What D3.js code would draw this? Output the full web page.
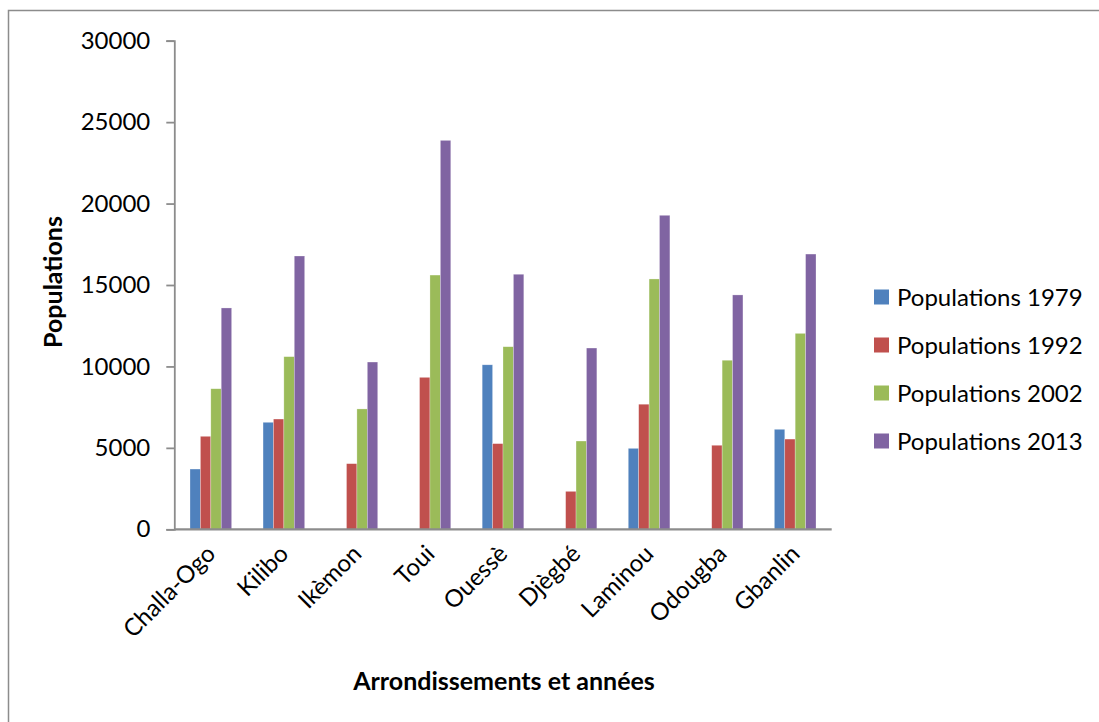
<!DOCTYPE html>
<html>
<head>
<meta charset="utf-8">
<script src="https://cdn.jsdelivr.net/npm/d3@7"></script>
<style>
  html, body { margin: 0; padding: 0; background: #fff; }
  svg { display: block; }
  text { font-family: Lato, "Open Sans", sans-serif; fill: #000; }
</style>
</head>
<body>
<svg id="chart" width="1099" height="722"></svg>
<script>
const categories = ["Challa-Ogo", "Kilibo", "Ikèmon", "Toui", "Ouessè", "Djègbé", "Laminou", "Odougba", "Gbanlin"];
const seriesNames = ["Populations 1979", "Populations 1992", "Populations 2002", "Populations 2013"];
const pop1979 = [3700, 6570, 0, 0, 10100, 0, 4970, 0, 6140];
const pop1992 = [5710, 6770, 4030, 9330, 5260, 2330, 7680, 5160, 5540];
const pop2002 = [8630, 10600, 7390, 15610, 11210, 5420, 15370, 10380, 12030];
const pop2013 = [13590, 16780, 10270, 23880, 15660, 11130, 19280, 14390, 16900];
const yTicks = [0, 5000, 10000, 15000, 20000, 25000, 30000];
const colors = ["#4F81BD", "#C0504D", "#9BBB59", "#8064A2"];
const seriesValues = [pop1979, pop1992, pop2002, pop2013];

const svg = d3.select("#chart");

// outer frame
svg.append("rect")
  .attr("x", 8.5).attr("y", 10.5)
  .attr("width", 1200).attr("height", 800)
  .attr("fill", "none").attr("stroke", "#8c8c8c").attr("stroke-width", 1.5);

const plot = { left: 174.3, right: 831.7, top: 40.7, bottom: 529.3 };

const x0 = d3.scaleBand()
  .domain(categories)
  .range([plot.left, plot.right])
  .paddingInner(0.43)
  .paddingOuter(0.215);

const x1 = d3.scaleBand()
  .domain(seriesNames)
  .range([0, x0.bandwidth()]);

const y = d3.scaleLinear()
  .domain([0, 30000])
  .range([plot.bottom, plot.top]);

// bars
const groups = svg.append("g").selectAll("g")
  .data(categories)
  .join("g")
  .attr("transform", d => `translate(${x0(d)},0)`);

groups.selectAll("rect")
  .data((c, i) => seriesNames.map((s, k) => ({ s, k, v: seriesValues[k][i] })))
  .join("rect")
  .filter(d => d.v > 0)
  .attr("x", d => x1(d.s))
  .attr("width", x1.bandwidth())
  .attr("y", d => y(d.v))
  .attr("height", d => y(0) - y(d.v))
  .attr("fill", d => colors[d.k])
  .attr("stroke", "rgba(255,255,255,0.45)")
  .attr("stroke-width", 0.6);

// y axis
const yAxis = d3.axisLeft(y)
  .tickValues(yTicks)
  .tickSize(8)
  .tickPadding(16)
  .tickFormat(d3.format("d"));

const gy = svg.append("g")
  .attr("transform", `translate(${plot.left},0)`)
  .call(yAxis);
gy.select(".domain").attr("stroke", "#8c8c8c").attr("stroke-width", 1.8);
gy.selectAll(".tick line").attr("stroke", "#8c8c8c").attr("stroke-width", 1.8);
gy.selectAll(".tick text")
  .style("font-family", "Lato, sans-serif")
  .style("font-size", "24px")
  .attr("fill", "#000");

// x axis
const xAxis = d3.axisBottom(x0).tickSize(0).tickPadding(0);
const gx = svg.append("g")
  .attr("transform", `translate(0,${plot.bottom})`)
  .call(xAxis);
gx.select(".domain").attr("stroke", "#8c8c8c").attr("stroke-width", 2.2)
  .attr("d", `M${plot.left},0H${plot.right}`);
gx.selectAll(".tick text")
  .style("font-family", "Lato, sans-serif")
  .style("font-size", "24px")
  .attr("fill", "#000")
  .attr("text-anchor", "end")
  .attr("dy", null)
  .attr("y", null)
  .attr("transform", "translate(6,26) rotate(-45)");

// axis titles
svg.append("text")
  .attr("x", 504).attr("y", 690)
  .attr("text-anchor", "middle")
  .style("font-weight", "bold")
  .style("font-size", "25px")
  .text("Arrondissements et années");

svg.append("text")
  .attr("transform", "translate(62,282) rotate(-90)")
  .attr("text-anchor", "middle")
  .style("font-weight", "bold")
  .style("font-size", "25px")
  .text("Populations");

// legend
const legend = svg.append("g").selectAll("g")
  .data(seriesNames)
  .join("g")
  .attr("transform", (d, i) => `translate(874,${297 + i * 48})`);
legend.append("rect")
  .attr("x", 0).attr("y", -7.5)
  .attr("width", 15).attr("height", 15)
  .attr("fill", (d, i) => colors[i]);
legend.append("text")
  .attr("x", 23).attr("y", 8.5)
  .style("font-size", "24px")
  .text(d => d);
</script>
</body>
</html>
